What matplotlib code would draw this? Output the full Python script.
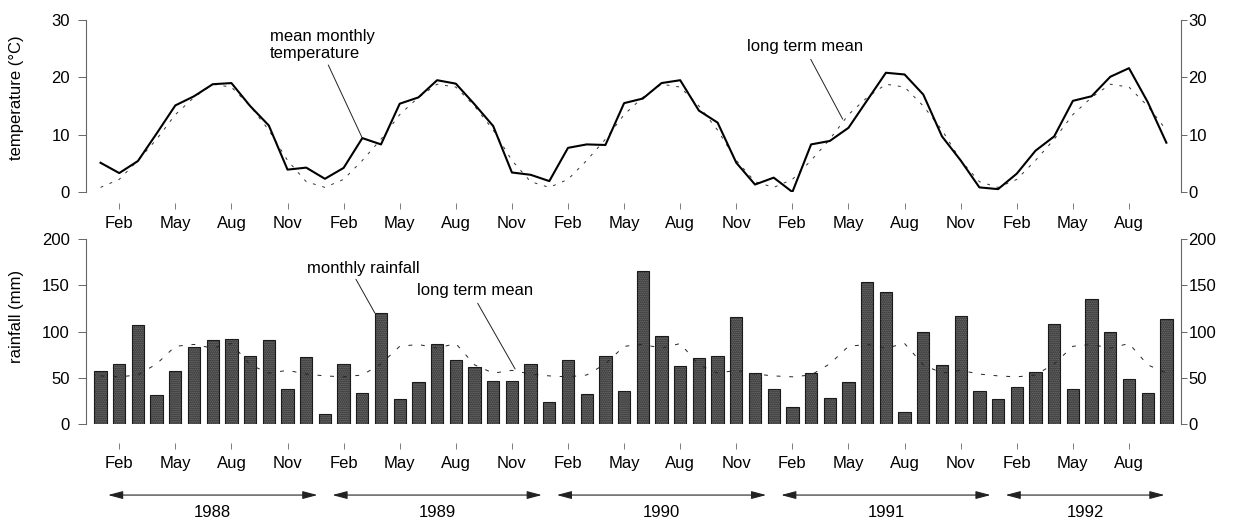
import numpy as np
import matplotlib
matplotlib.use("Agg")
import matplotlib.pyplot as plt
from matplotlib.transforms import blended_transform_factory

plt.rcParams["font.family"] = ["Liberation Sans", "DejaVu Sans"]
plt.rcParams["font.size"] = 12

# ---- data: Jan 1988 .. Oct 1992 -------------------------------------------
years = [1988, 1989, 1990, 1991, 1992]
month_names = ["Jan", "Feb", "Mar", "Apr", "May", "Jun",
               "Jul", "Aug", "Sep", "Oct", "Nov", "Dec"]
tick_months = ["Feb", "May", "Aug", "Nov"]

temperature = [
    5.1, 3.3, 5.4, 10.2, 15.1, 16.7, 18.8, 19.0, 15.0, 11.6, 3.9, 4.25,   # 1988
    2.3, 4.2, 9.4, 8.3, 15.4, 16.5, 19.5, 18.9, 15.3, 11.5, 3.4, 3.0,     # 1989
    1.9, 7.7, 8.3, 8.2, 15.5, 16.3, 19.0, 19.5, 14.2, 12.1, 5.1, 1.3,     # 1990
    2.5, 0.0, 8.3, 8.9, 11.2, 16.0, 20.8, 20.5, 17.0, 9.7, 5.5, 0.8,      # 1991
    0.5, 3.2, 7.2, 9.7, 15.9, 16.7, 20.1, 21.6, 15.7, 8.6,                # 1992
]
temperature_long_term = [0.8, 2.2, 5.5, 9.2, 13.5, 16.5, 18.8, 18.3, 15.0, 10.8, 5.5, 1.8]

rainfall = [
    57, 65, 107, 31, 57, 83, 91, 92, 73, 91, 38, 72,     # 1988
    11, 65, 33, 120, 27, 45, 86, 69, 62, 47, 46, 65,     # 1989
    24, 69, 32, 74, 36, 165, 95, 63, 71, 74, 116, 55,    # 1990
    38, 18, 55, 28, 45, 153, 143, 13, 99, 64, 117, 36,   # 1991
    27, 40, 56, 108, 38, 135, 99, 49, 34, 114,           # 1992
]
rainfall_long_term = [52, 51, 53, 65, 84, 86, 82, 87, 64, 55, 58, 54]

n_months = len(temperature)
x = np.arange(n_months)
month_of = [month_names[i % 12] for i in range(n_months)]
temp_lt = [temperature_long_term[month_names.index(m)] for m in month_of]
rain_lt = [rainfall_long_term[month_names.index(m)] for m in month_of]

tick_pos = [i for i, m in enumerate(month_of) if m in tick_months]
tick_lab = [month_of[i] for i in tick_pos]

# ---- figure -----------------------------------------------------------------
fig = plt.figure(figsize=(12.33, 5.2), dpi=100)
ax_t = fig.add_axes([0.0697, 0.6308, 0.8881, 0.3307])
ax_r = fig.add_axes([0.0697, 0.1846, 0.8881, 0.3558])

axis_grey = "#666666"
xlim = (-0.78, n_months - 0.22)


def style_axes(ax, ylim, yticks, outward):
    ax.set_xlim(*xlim)
    ax.set_ylim(*ylim)
    ax.set_yticks(yticks)
    for side in ("top", "right"):
        ax.spines[side].set_visible(False)
    ax.spines["bottom"].set_position(("outward", outward))
    ax.spines["bottom"].set_visible(False)
    ax.spines["left"].set_color(axis_grey)
    ax.spines["left"].set_linewidth(0.8)
    ax.tick_params(axis="y", direction="out", length=6, width=0.7,
                   color=axis_grey, pad=5.5, labelsize=12)
    ax.set_xticks(tick_pos)
    ax.set_xticklabels(tick_lab)
    ax.tick_params(axis="x", direction="out", length=4, width=0.6,
                   color=axis_grey, pad=5, labelsize=12)
    twin = ax.twinx()
    twin.set_ylim(*ylim)
    twin.set_yticks(yticks)
    for side in ("top", "left", "bottom"):
        twin.spines[side].set_visible(False)
    twin.spines["right"].set_color(axis_grey)
    twin.spines["right"].set_linewidth(0.8)
    twin.tick_params(axis="y", direction="out", length=4.5, width=0.7,
                     color=axis_grey, pad=1, labelsize=12)
    return twin


style_axes(ax_t, (0, 30), [0, 10, 20, 30], 8)
style_axes(ax_r, (0, 200), [0, 50, 100, 150, 200], 14)

# ---- temperature ------------------------------------------------------------
ax_t.plot(x, temp_lt, color="#333333", lw=0.7, ls=(0, (3, 7)), zorder=2)
ax_t.plot(x, temperature, color="black", lw=1.5, zorder=3)
ax_t.set_ylabel("temperature (°C)", fontsize=12)
ax_t.yaxis.set_label_coords(-0.057, 0.55)

ax_t.text(9.06, 25.6, "mean monthly\ntemperature", ha="left", va="center",
          fontsize=12, linespacing=1.15)
ax_t.annotate("", xy=(14, temperature[14]), xytext=(12.18, 22.15),
              arrowprops=dict(arrowstyle="-", lw=0.7, color="#222222",
                              shrinkA=0, shrinkB=0))
ax_t.text(34.57, 25.3, "long term mean", ha="left", va="center", fontsize=12)
ax_t.annotate("", xy=(39.69, 12.7), xytext=(37.98, 23.15),
              arrowprops=dict(arrowstyle="-", lw=0.7, color="#222222",
                              shrinkA=0, shrinkB=0))

# ---- rainfall ---------------------------------------------------------------
bar_w = 0.66
ax_r.bar(x, rainfall, width=bar_w, facecolor="#7c7c7c", edgecolor="#1a1a1a",
         hatch="........", linewidth=0.8, zorder=2)
ax_r.plot(x, rain_lt, color="#222222", lw=0.7, ls=(0, (4, 9)), zorder=3)
ax_r.set_ylabel("rainfall (mm)", fontsize=12)
ax_r.yaxis.set_label_coords(-0.057, 0.58)

ax_r.text(11.04, 167.6, "monthly rainfall", ha="left", va="center", fontsize=12)
ax_r.annotate("", xy=(15 - bar_w / 2, rainfall[15]), xytext=(13.66, 156.4),
              arrowprops=dict(arrowstyle="-", lw=0.7, color="#222222",
                              shrinkA=0, shrinkB=0))
ax_r.text(16.93, 143.8, "long term mean", ha="left", va="center", fontsize=12)
ax_r.annotate("", xy=(22.17, 59.5), xytext=(20.17, 130.5),
              arrowprops=dict(arrowstyle="-", lw=0.7, color="#222222",
                              shrinkA=0, shrinkB=0))

# ---- year spans below the rainfall axis ------------------------------------
trans = blended_transform_factory(ax_r.transData, ax_r.transAxes)
for k, yr in enumerate(years):
    start = 12 * k + 0.4
    end = min(12 * k + 11.6, n_months - 1.1)
    ax_r.annotate("", xy=(end, -0.384), xytext=(start, -0.384),
                  xycoords=trans, textcoords=trans, annotation_clip=False,
                  arrowprops=dict(arrowstyle="<|-|>,head_length=0.75,head_width=0.2",
                                  lw=0.8, color="#222222", shrinkA=0, shrinkB=0))
    ax_r.text((start + end) / 2, -0.476, str(yr), transform=trans,
              ha="center", va="center", fontsize=12)

fig.savefig("out.png", dpi=100)
